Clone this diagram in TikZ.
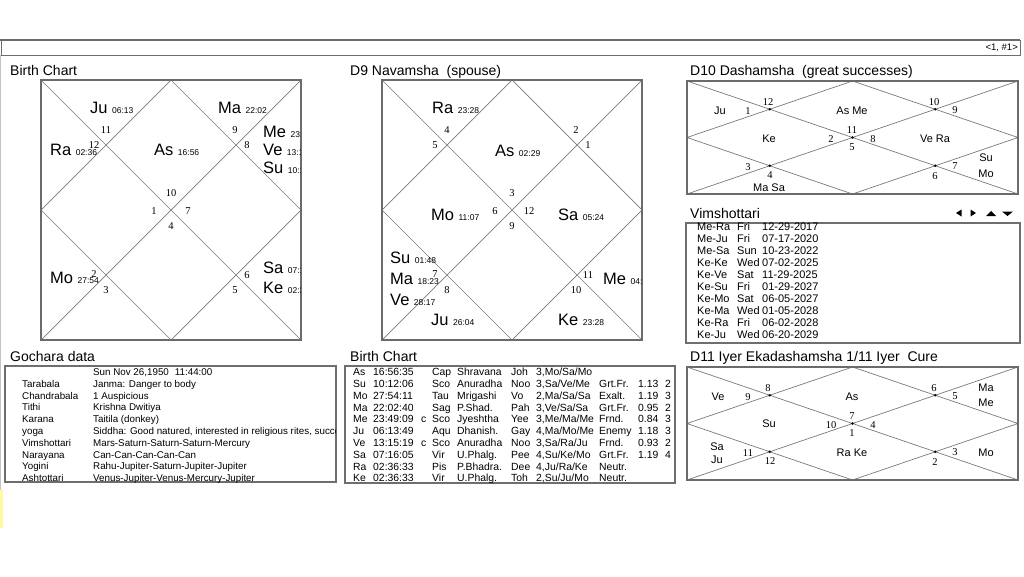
\documentclass[tikz,border=0pt]{standalone}
\usepackage{fontspec}
\setmainfont{Liberation Sans}
\newfontfamily\serifnum{Liberation Serif}
\usepackage{xcolor}
\usepackage{tikz}
\definecolor{framegray}{HTML}{6B6B6B}
\definecolor{linegray}{HTML}{7A7A7A}
\definecolor{boxgray}{HTML}{6E6E6E}
\definecolor{edgegray}{HTML}{C4C4C4}
\definecolor{marker}{HTML}{FFFAA0}

\begin{document}
\begin{tikzpicture}[x=1pt,y=-1pt,font=\fontsize{10.4}{12}\selectfont,
  title/.style={anchor=base west,inner sep=0pt,font=\fontsize{14}{16}\selectfont},
  chartline/.style={linegray,line width=0.7pt},
  chartframe/.style={framegray,line width=2.2pt},
  housenum/.style={inner sep=0pt,font=\serifnum\fontsize{10.5}{12}\selectfont},
  planet/.style={anchor=west,inner sep=0pt,font=\fontsize{16.5}{18}\selectfont},
  smallplanet/.style={inner sep=0pt,font=\fontsize{11}{12}\selectfont},
  cell/.style={anchor=base west,inner sep=0pt},
  tablebox/.style={boxgray,line width=1.1pt}]
\useasboundingbox (0,0) rectangle (1024,576);
\fill[white] (0,0) rectangle (1024,576);
% header strip and page edge
\draw[boxgray,line width=0.8pt] (1,40) rectangle (1020,55);
\draw[framegray,line width=1.6pt] (0,40) -- (1020,40);
\node[anchor=east,inner sep=0pt,font=\fontsize{9.5}{11}\selectfont] (pageno) at (1018,48) {<1, \#1>};
\draw[edgegray] (0.5,55) -- (0.5,490);
\fill[marker] (0,490) rectangle (3,528);
% panel titles
\node[title] (t-rasi) at (10,75) {Birth Chart};
\node[title] (t-nav) at (350,75) {D9 Navamsha\ \ (spouse)};
\node[title] (t-dasa) at (690,75) {D10 Dashamsha\ \ (great successes)};
\node[title] (t-vim) at (690,218) {Vimshottari};
\node[title] (t-gochara) at (10,361) {Gochara data};
\node[title] (t-table) at (350,361) {Birth Chart};
\node[title] (t-ekad) at (690,361) {D11 Iyer Ekadashamsha 1/11 Iyer\ \ Cure};
% square charts, house signs counted from the ascendant
\foreach \cx/\asc/\nm in {41/10/rasi,382/3/nav} {
  \begin{scope}[shift={(\cx,80)}]
    \draw[chartline] (0,0) -- (260,260) (260,0) -- (0,260)
      (130,0) -- (260,130) -- (130,260) -- (0,130) -- cycle;
    \foreach \k/\px/\py in {1/130/113,2/65/50,3/53/65,4/113/131,5/53/194,6/65/210,
        7/130/146,8/194/210,9/206/195,10/147/131,11/206/65,12/194/50} {
      \pgfmathtruncatemacro\sg{mod(\asc+\k-2,12)+1}
      \node[housenum] (\nm-h\k) at (\px,\py) {\sg};
    }
    \draw[chartframe] (0,0) rectangle (260,260);
  \end{scope}
}
\begin{scope}[shift={(41,80)}]
  \clip (1,1) rectangle (259,259);
  \foreach \n/\p/\dg/\px/\py in {ju/Ju/06:13/49/28,ma/Ma/22:02/177/28,ra/Ra/02:36/9/70,
      as/As/16:56/113/70,me/Me/23:49/222/52,ve/Ve/13:15/222/70,su/Su/10:12/222/88,
      mo/Mo/27:54/9/198,sa/Sa/07:16/222/188,ke/Ke/02:36/222/208}
    \node[planet] (rasi-\n) at (\px,\py) {\p\hspace{4.5pt}\fontsize{8.5}{10}\selectfont\dg};
\end{scope}
\begin{scope}[shift={(382,80)}]
  \clip (1,1) rectangle (259,259);
  \foreach \n/\p/\dg/\px/\py in {ra/Ra/23:28/50/28,as/As/02:29/113/71,mo/Mo/11:07/49/135,
      sa/Sa/05:24/176/135,su/Su/01:48/8/178,ma/Ma/18:23/8/199,ve/Ve/28:17/8/220,
      me/Me/04:22/221/199,ju/Ju/26:04/49/240,ke/Ke/23:28/176/240}
    \node[planet] (nav-\n) at (\px,\py) {\p\hspace{4.5pt}\fontsize{8.5}{10}\selectfont\dg};
\end{scope}
% wide charts
\foreach \cy/\asc/\nm in {81/11/dasa,367/7/ekad} {
  \begin{scope}[shift={(687,\cy)}]
    \draw[chartline] (0,0) -- (331,113) (331,0) -- (0,113)
      (165.5,0) -- (331,56.5) -- (165.5,113) -- (0,56.5) -- cycle;
    \foreach \px/\py in {82.75/28.25,248.25/28.25,82.75/84.75,248.25/84.75,165.5/56.5}
      \fill (\px,\py) circle (1.3pt);
    \foreach \k/\px/\py in {1/165/49,2/81/21,3/61/30,4/144/58,5/61/86,6/83/94,
        7/165/66,8/248/95,9/268/85,10/186/58,11/268/29,12/247/21} {
      \pgfmathtruncatemacro\sg{mod(\asc+\k-2,12)+1}
      \node[housenum] (\nm-h\k) at (\px,\py) {\sg};
    }
    \draw[chartframe] (0,0) rectangle (331,113);
  \end{scope}
}
\begin{scope}[shift={(687,81)}]
  \foreach \n/\p/\px/\py in {ju/Ju/33/30,asme/As Me/165/30,ke/Ke/82/58,vera/Ve Ra/248/58,
      masa/Ma Sa/82/107,su/Su/299/77,mo/Mo/299/93}
    \node[smallplanet] (dasa-\n) at (\px,\py) {\p};
\end{scope}
\begin{scope}[shift={(687,367)}]
  \foreach \n/\p/\px/\py in {ve/Ve/31/30,as/As/165/30,ma/Ma/299/21,me/Me/299/36,su/Su/82/57,
      sa/Sa/30/80,ju/Ju/30/93,rake/Ra Ke/165/86,mo/Mo/299/86}
    \node[smallplanet] (ekad-\n) at (\px,\py) {\p};
\end{scope}
% vimshottari list with browse arrows
\fill (956,213) -- (961.5,209.5) -- (961.5,216.5) -- cycle;
\fill (976,213) -- (970.5,209.5) -- (970.5,216.5) -- cycle;
\fill (986,216) -- (991,211) -- (996,216) -- cycle;
\fill (1002,211.5) -- (1007.5,216) -- (1013,211.5) -- cycle;
\draw[tablebox] (686,223) rectangle (1020,343);
\foreach \i/\lab/\wday/\dt in {0/Me-Ra/Fri/12-29-2017,1/Me-Ju/Fri/07-17-2020,2/Me-Sa/Sun/10-23-2022,
    3/Ke-Ke/Wed/07-02-2025,4/Ke-Ve/Sat/11-29-2025,5/Ke-Su/Fri/01-29-2027,6/Ke-Mo/Sat/06-05-2027,
    7/Ke-Ma/Wed/01-05-2028,8/Ke-Ra/Fri/06-02-2028,9/Ke-Ju/Wed/06-20-2029} {
  \pgfmathsetmacro\yy{230.9+11.9*\i}
  \node[cell,font=\fontsize{11}{12}\selectfont] (vim-a\i) at (697,\yy) {\lab};
  \node[cell,font=\fontsize{11}{12}\selectfont] (vim-b\i) at (737,\yy) {\wday};
  \node[cell,font=\fontsize{11}{12}\selectfont] (vim-c\i) at (762,\yy) {\dt};
}
% gochara data
\draw[tablebox] (5,366) rectangle (336,482);
\begin{scope}
  \clip (5,366) rectangle (335,482);
  \node[cell,font=\fontsize{9.8}{11}\selectfont] (go-date) at (93,375.5) {Sun Nov 26,1950\hspace{6pt}11:44:00};
  \foreach \i/\lab/\txt in {1/Tarabala/Janma: Danger to body,2/Chandrabala/1 Auspicious,
      3/Tithi/Krishna Dwitiya,4/Karana/Taitila (donkey),
      5/yoga/{Siddha: Good natured, interested in religious rites, succe},
      6/Vimshottari/Mars-Saturn-Saturn-Saturn-Mercury,7/Narayana/Can-Can-Can-Can-Can,
      8/Yogini/Rahu-Jupiter-Saturn-Jupiter-Jupiter,9/Ashtottari/Venus-Jupiter-Venus-Mercury-Jupiter} {
    \pgfmathsetmacro\yy{375.5+11.8*\i}
    \node[cell,font=\fontsize{9.8}{11}\selectfont] (go-a\i) at (22,\yy) {\lab};
    \node[cell,font=\fontsize{9.8}{11}\selectfont] (go-b\i) at (93,\yy) {\txt};
  }
\end{scope}
% birth chart table
\draw[tablebox] (345,366) rectangle (675,483);
\foreach \i/\p/\tm/\sgn/\nak/\sy/\q in {0/As/16:56:35/Cap/Shravana/Joh/{3,Mo/Sa/Mo},
    1/Su/10:12:06/Sco/Anuradha/Noo/{3,Sa/Ve/Me},2/Mo/27:54:11/Tau/Mrigashi/Vo/{2,Ma/Sa/Sa},
    3/Ma/22:02:40/Sag/P.Shad./Pah/{3,Ve/Sa/Sa},4/Me/23:49:09/Sco/Jyeshtha/Yee/{3,Me/Ma/Me},
    5/Ju/06:13:49/Aqu/Dhanish./Gay/{4,Ma/Mo/Me},6/Ve/13:15:19/Sco/Anuradha/Noo/{3,Sa/Ra/Ju},
    7/Sa/07:16:05/Vir/U.Phalg./Pee/{4,Su/Ke/Mo},8/Ra/02:36:33/Pis/P.Bhadra./Dee/{4,Ju/Ra/Ke},
    9/Ke/02:36:33/Vir/U.Phalg./Toh/{2,Su/Ju/Mo}} {
  \pgfmathsetmacro\yy{375.7+11.8*\i}
  \node[cell] (tb-p\i) at (353,\yy) {\p};
  \node[cell] (tb-t\i) at (373,\yy) {\tm};
  \node[cell] (tb-s\i) at (432,\yy) {\sgn};
  \node[cell] (tb-n\i) at (457,\yy) {\nak};
  \node[cell] (tb-y\i) at (511,\yy) {\sy};
  \node[cell] (tb-q\i) at (536,\yy) {\q};
}
\foreach \i in {4,6}
  \node[cell] (tb-c\i) at (421,{375.7+11.8*\i}) {c};
\foreach \i/\rel in {1/Grt.Fr.,2/Exalt.,3/Grt.Fr.,4/Frnd.,5/Enemy,6/Frnd.,7/Grt.Fr.,8/Neutr.,9/Neutr.}
  \node[cell] (tb-r\i) at (599,{375.7+11.8*\i}) {\rel};
\foreach \i/\val/\cnt in {1/1.13/2,2/1.19/3,3/0.95/2,4/0.84/3,5/1.18/3,6/0.93/2,7/1.19/4} {
  \node[cell] (tb-v\i) at (638,{375.7+11.8*\i}) {\val};
  \node[cell] (tb-k\i) at (665,{375.7+11.8*\i}) {\cnt};
}
\end{tikzpicture}
\end{document}
